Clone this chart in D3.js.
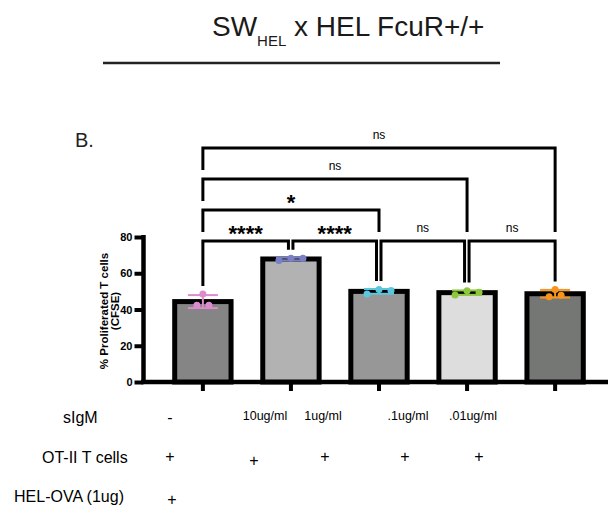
<!DOCTYPE html>
<html>
<head>
<meta charset="utf-8">
<script src="https://cdn.jsdelivr.net/npm/d3@7"></script>
<style>
  html, body { margin: 0; padding: 0; background: #fff; }
  svg { display: block; font-family: "Liberation Sans", Arial, sans-serif; }
</style>
</head>
<body>
<svg id="chart" width="608" height="513"></svg>
<script>
// Groups along the x axis (sIgM dose; first group is the HEL-OVA control)
const groups = ["HEL-OVA", "10ug/ml", "1ug/ml", ".1ug/ml", ".01ug/ml"];
// Replicate measurements, % proliferated T cells (CFSE)
const replicates = [
  [48.5, 42.3, 42.3],
  [67.0, 68.3, 68.3],
  [48.5, 51.0, 50.5],
  [48.0, 50.4, 49.5],
  [47.1, 51.1, 47.9]
];
const barFills = ["#858585", "#b2b2b2", "#979797", "#dddddd", "#757775"];
const dotColors = ["#dc8ccc", "#7a80c8", "#5cc6dc", "#8dc63f", "#f7941d"];
const yTicks = [0, 20, 40, 60, 80];
// Pairwise comparisons: [group a, group b, significance]
const comparisons = [
  [0, 1, "****"], [1, 2, "****"], [2, 3, "ns"], [3, 4, "ns"],
  [0, 2, "*"], [0, 3, "ns"], [0, 4, "ns"]
];
// Condition table under the axis
const sIgMRow = ["-", "10ug/ml", "1ug/ml", ".1ug/ml", ".01ug/ml"];
const otiiRow = ["+", "+", "+", "+", "+"];
const helOvaRow = ["+", "", "", "", ""];

const svg = d3.select("#chart");

// Title with subscript
const title = svg.append("text").attr("x", 212).attr("y", 36)
  .attr("font-size", 28).attr("fill", "#1a1a1a");
title.append("tspan").text("SW");
title.append("tspan").attr("font-size", 15).attr("dy", 9.5).text("HEL");
title.append("tspan").attr("dy", -9.5).text(" x HEL FcuR+/+");
svg.append("line").attr("x1", 103).attr("x2", 500).attr("y1", 63).attr("y2", 63)
  .attr("stroke", "#222").attr("stroke-width", 2.5);

svg.append("text").attr("x", 75).attr("y", 147).attr("font-size", 20)
  .attr("fill", "#222").text("B.");

// Scales
const y = d3.scaleLinear().domain([0, 80]).range([382, 237]);
const x = d3.scaleBand().domain(groups).range([143, 615]).padding(0.36);
const cx = i => x(groups[i]) + x.bandwidth() / 2;

const stats = replicates.map(r => ({ mean: d3.mean(r), sd: d3.deviation(r), max: d3.max(r) }));

// Axes
const yAxis = svg.append("g").attr("transform", "translate(143.5,0)")
  .call(d3.axisLeft(y).tickValues(yTicks).tickSize(9).tickSizeOuter(0).tickPadding(2));
yAxis.select(".domain").attr("stroke", "#000").attr("stroke-width", 4.5)
  .attr("d", `M0,${y(80) - 2}V${y(0) + 2}`);
yAxis.selectAll(".tick line").attr("stroke", "#000").attr("stroke-width", 4);
yAxis.selectAll(".tick text").attr("font-size", 11).attr("font-weight", "bold")
  .attr("font-family", "Liberation Sans, Arial, sans-serif").attr("fill", "#000");

const xAxis = svg.append("g").attr("transform", `translate(0,${y(0)})`)
  .call(d3.axisBottom(x).tickSize(9).tickSizeOuter(0).tickFormat(""));
xAxis.select(".domain").attr("stroke", "#000").attr("stroke-width", 4.5)
  .attr("d", "M141,0H608");
xAxis.selectAll(".tick line").attr("stroke", "#000").attr("stroke-width", 4);

// Y axis title
const yl = svg.append("text").attr("transform", `translate(107.5,311) rotate(-90)`)
  .attr("text-anchor", "middle").attr("font-size", 11.5).attr("font-weight", "bold").attr("fill", "#000");
yl.append("tspan").attr("x", 0).attr("dy", 0).text("% Proliferated T cells");
yl.append("tspan").attr("x", 0).attr("dy", 11.5).text("(CFSE)");

// Bars
svg.append("g").selectAll("rect").data(stats).join("rect")
  .attr("x", (d, i) => x(groups[i]))
  .attr("width", x.bandwidth())
  .attr("y", d => y(d.mean))
  .attr("height", d => y(0) - y(d.mean))
  .attr("fill", (d, i) => barFills[i])
  .attr("stroke", "#000").attr("stroke-width", 5);

// Error bars (mean ± SD)
const eb = svg.append("g").selectAll("g").data(stats).join("g")
  .attr("stroke", (d, i) => dotColors[i]).attr("stroke-width", 2);
eb.append("line").attr("x1", (d, i) => cx(i)).attr("x2", (d, i) => cx(i))
  .attr("y1", d => y(d.mean + d.sd)).attr("y2", d => y(d.mean - d.sd));
eb.append("line").attr("x1", (d, i) => cx(i) - 15).attr("x2", (d, i) => cx(i) + 15)
  .attr("y1", d => y(d.mean + d.sd)).attr("y2", d => y(d.mean + d.sd));
eb.append("line").attr("x1", (d, i) => cx(i) - 15).attr("x2", (d, i) => cx(i) + 15)
  .attr("y1", d => y(d.mean - d.sd)).attr("y2", d => y(d.mean - d.sd));

// Replicate dots: points with nearby values are spread out in a row
function spreadDots(vals, i) {
  const idx = vals.map((v, k) => k).sort((a, b) => vals[a] - vals[b]);
  const clusters = [];
  idx.forEach(k => {
    const last = clusters[clusters.length - 1];
    if (last && Math.abs(y(vals[k]) - y(vals[last[last.length - 1]])) < 5) last.push(k);
    else clusters.push([k]);
  });
  const out = [];
  clusters.forEach(c => {
    c.sort((a, b) => a - b);
    c.forEach((k, j) => out.push({ v: vals[k], dx: (j - (c.length - 1) / 2) * 12, g: i }));
  });
  return out;
}
const dots = replicates.flatMap((r, i) => spreadDots(r, i));
svg.append("g").selectAll("circle").data(dots).join("circle")
  .attr("cx", d => cx(d.g) + d.dx).attr("cy", d => y(d.v)).attr("r", 3.5)
  .attr("fill", d => dotColors[d.g]);

// Significance brackets
const levelOf = ([a, b]) => b - a - 1;
const lineY = lvl => 241 - lvl * 31;
const brackets = svg.append("g").attr("fill", "none").attr("stroke", "#000").attr("stroke-width", 3);
const labels = svg.append("g").attr("text-anchor", "middle").attr("fill", "#000");
function legBottom(comp, k) {
  const lvl = levelOf(comp);
  const below = comparisons.filter(c => c !== comp && (c[0] === k || c[1] === k) && levelOf(c) < lvl);
  if (below.length) return lineY(d3.max(below, levelOf)) - 9;
  const s = stats[k];
  return y(Math.max(s.mean + s.sd, s.max)) - 8;
}
function legX(comp, k, side) {
  const lvl = levelOf(comp);
  const shared = comparisons.some(c => c !== comp && levelOf(c) === lvl && (side === "left" ? c[1] === k : c[0] === k));
  return cx(k) + (shared ? (side === "left" ? 2 : -2.5) : 0);
}
comparisons.forEach(comp => {
  const [a, b, sig] = comp;
  const ly = lineY(levelOf(comp));
  const x1 = legX(comp, a, "left"), x2 = legX(comp, b, "right");
  brackets.append("path")
    .attr("d", `M${x1},${legBottom(comp, a)}V${ly}H${x2}V${legBottom(comp, b)}`);
  const star = sig !== "ns";
  labels.append("text").attr("x", (x1 + x2) / 2)
    .attr("y", star ? ly : ly - 9)
    .attr("font-size", star ? 22 : 12).attr("font-weight", star ? "bold" : "normal")
    .text(sig);
});

// Condition table
const table = svg.append("g").attr("fill", "#000");
table.append("text").attr("x", 63).attr("y", 423).attr("font-size", 16).text("sIgM");
table.append("text").attr("x", 42).attr("y", 463).attr("font-size", 16).text("OT-II T cells");
table.append("text").attr("x", 14).attr("y", 502).attr("font-size", 16).text("HEL-OVA (1ug)");
const sIgMX = [170, 265, 323, 408, 473];
const otiiX = [170, 254, 325, 405, 479];
const otiiDy = [0, 4, 0, 0, 0];
table.selectAll(".sigm").data(sIgMRow).join("text").attr("class", "sigm")
  .attr("x", (d, i) => sIgMX[i]).attr("y", (d, i) => i === 0 ? 423 : 420)
  .attr("text-anchor", "middle").attr("font-size", (d, i) => i === 0 ? 16 : 12.5).text(d => d);
table.selectAll(".otii").data(otiiRow).join("text").attr("class", "otii")
  .attr("x", (d, i) => otiiX[i]).attr("y", (d, i) => 462 + otiiDy[i])
  .attr("text-anchor", "middle").attr("font-size", 16).text(d => d);
table.selectAll(".hel").data(helOvaRow).join("text").attr("class", "hel")
  .attr("x", 172).attr("y", 505)
  .attr("text-anchor", "middle").attr("font-size", 16).text(d => d);
</script>
</body>
</html>
